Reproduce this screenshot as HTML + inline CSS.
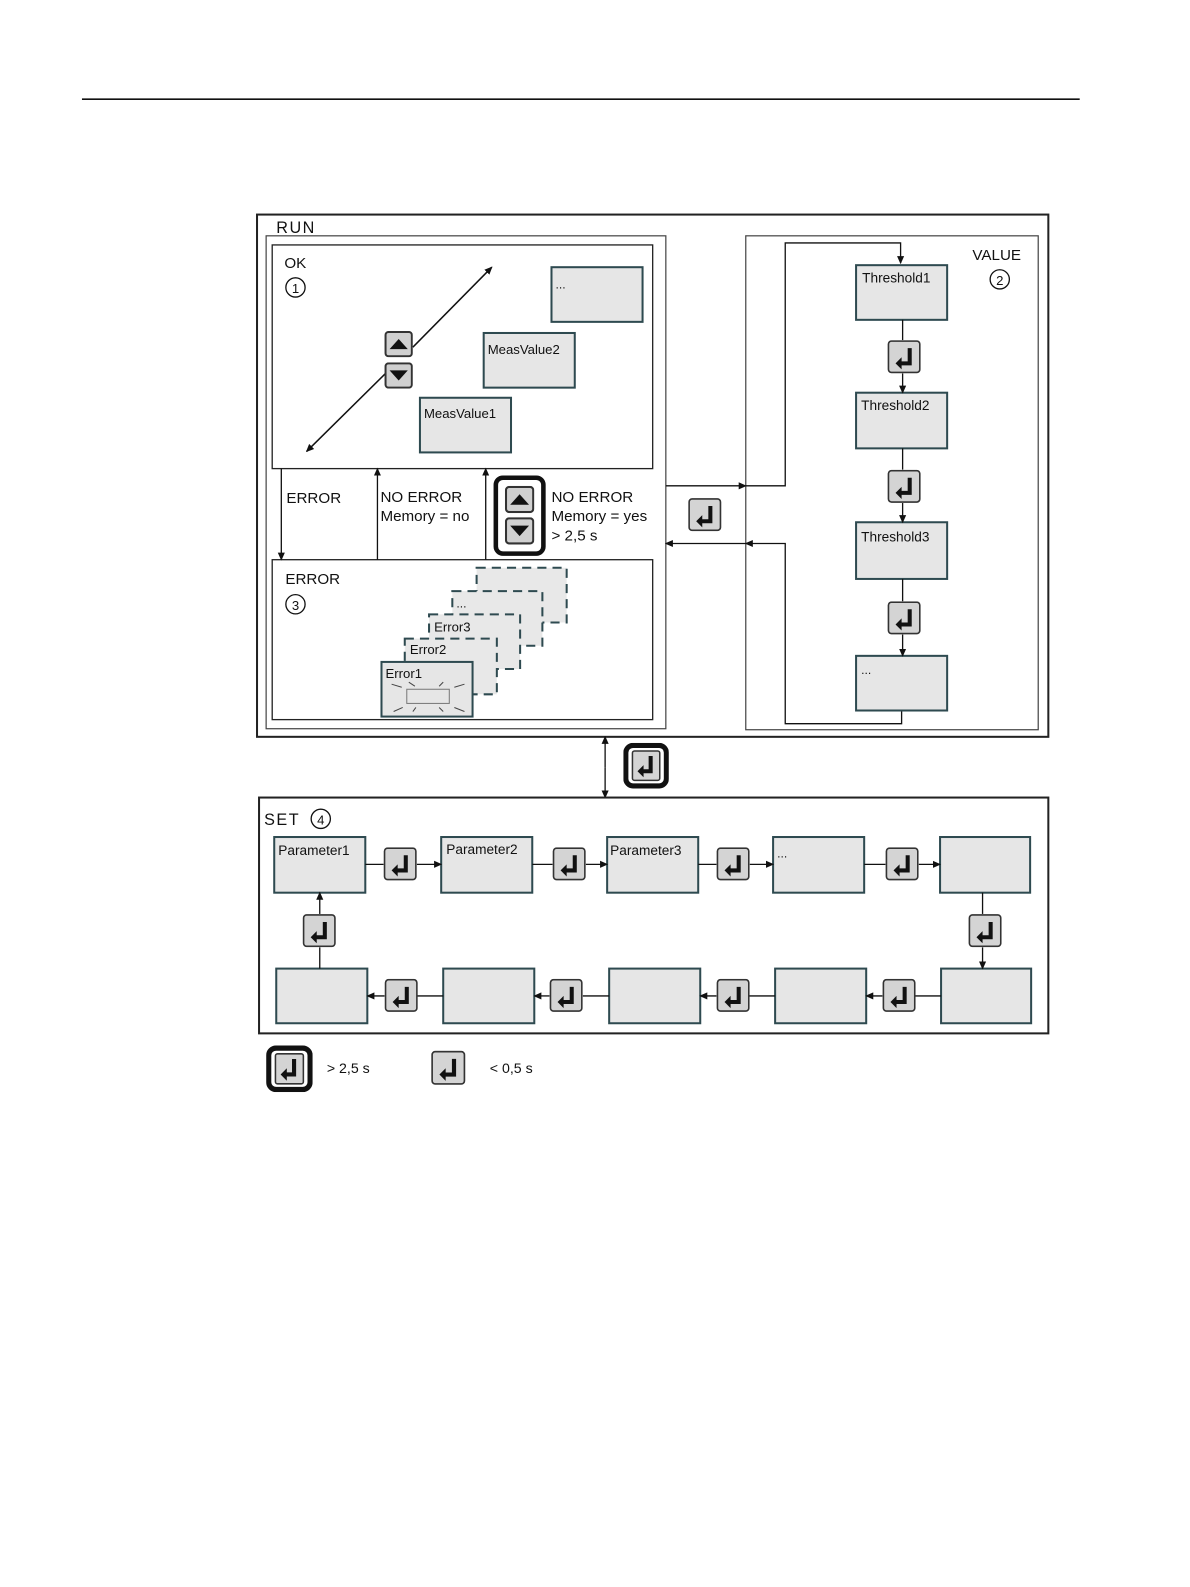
<!DOCTYPE html>
<html><head><meta charset="utf-8"><style>
html,body{margin:0;padding:0;background:#fff;}
svg{display:block;}
text{font-family:"Liberation Sans",sans-serif;fill:#111;}
</style></head><body>
<svg width="1190" height="1587" viewBox="0 0 1176 1568" preserveAspectRatio="none" xmlns="http://www.w3.org/2000/svg">
<defs>
<marker id="a" markerWidth="8" markerHeight="8" refX="7" refY="4" orient="auto" markerUnits="userSpaceOnUse"><path d="M0,0.5 L8,4 L0,7.5 z" fill="#111"/></marker>
<symbol id="k" viewBox="0 0 33 33"><rect x="1" y="1" width="31" height="31" rx="3" fill="#d4d4d4" stroke="#333" stroke-width="1.6"/><path d="M20,8 h4 v17 h-10 v4 l-6,-6 l6,-6 v4 h6 z" fill="#111"/></symbol>
<symbol id="kb" viewBox="0 0 45 45"><rect x="2.5" y="2.5" width="40" height="40" rx="7" fill="#fff" stroke="#111" stroke-width="5"/><rect x="9" y="8" width="27" height="29" rx="2" fill="#d4d4d4" stroke="#333" stroke-width="1.5"/><path d="M25,13 h4 v17 h-9 v4 l-6,-6 l6,-6 v4 h5 z" fill="#111"/></symbol>
<symbol id="up" viewBox="0 0 28 26"><rect x="1" y="1" width="26" height="24" rx="3" fill="#d0d0d0" stroke="#333" stroke-width="2"/><path d="M5,18 L14,8 L23,18 z" fill="#111"/></symbol>
<symbol id="dn" viewBox="0 0 28 26"><rect x="1" y="1" width="26" height="24" rx="3" fill="#d0d0d0" stroke="#333" stroke-width="2"/><path d="M5,8 L14,18 L23,8 z" fill="#111"/></symbol>
</defs>

<line x1="81" y1="98" x2="1067" y2="98" stroke="#111" stroke-width="1.5"/>

<!-- RUN -->
<rect x="254" y="212" width="782" height="516" fill="none" stroke="#222" stroke-width="2"/>
<text x="273" y="230" font-size="16" letter-spacing="1.5">RUN</text>
<rect x="263" y="233" width="395" height="487" fill="none" stroke="#444" stroke-width="1.2"/>
<rect x="269" y="242" width="376" height="221" fill="none" stroke="#222" stroke-width="1.3"/>
<rect x="269" y="553" width="376" height="158" fill="none" stroke="#222" stroke-width="1.3"/>
<rect x="737" y="233" width="289" height="488" fill="none" stroke="#444" stroke-width="1.2"/>

<!-- OK -->
<text x="281" y="265" font-size="15">OK</text>
<circle cx="292" cy="284" r="9.5" fill="none" stroke="#111" stroke-width="1.3"/>
<text x="292" y="289.5" font-size="13" text-anchor="middle">1</text>
<line x1="408" y1="343" x2="486" y2="264" stroke="#111" stroke-width="1.5" marker-end="url(#a)"/>
<line x1="382" y1="368" x2="303" y2="446" stroke="#111" stroke-width="1.5" marker-end="url(#a)"/>
<use href="#up" x="380" y="327" width="28" height="26"/>
<use href="#dn" x="380" y="358" width="28" height="26"/>
<g fill="#e6e6e6" stroke="#2e4a50" stroke-width="2">
<rect x="545" y="264" width="90" height="54"/>
<rect x="478" y="329" width="90" height="54"/>
<rect x="415" y="393" width="90" height="54"/>
</g>
<text x="549" y="285" font-size="12">...</text>
<text x="482" y="350" font-size="13">MeasValue2</text>
<text x="419" y="413" font-size="13">MeasValue1</text>

<!-- transitions -->
<line x1="278" y1="463" x2="278" y2="553" stroke="#111" stroke-width="1.3" marker-end="url(#a)"/>
<line x1="373" y1="553" x2="373" y2="463" stroke="#111" stroke-width="1.3" marker-end="url(#a)"/>
<line x1="480" y1="553" x2="480" y2="463" stroke="#111" stroke-width="1.3" marker-end="url(#a)"/>
<text x="283" y="497" font-size="15">ERROR</text>
<text x="376" y="496" font-size="15">NO ERROR</text>
<text x="376" y="515" font-size="15">Memory = no</text>
<text x="545" y="496" font-size="15">NO ERROR</text>
<text x="545" y="515" font-size="15">Memory = yes</text>
<text x="545" y="534" font-size="15">&gt; 2,5 s</text>
<rect x="490" y="472" width="47" height="75" rx="7" fill="#fff" stroke="#111" stroke-width="4.5"/>
<use href="#up" x="499" y="480" width="29" height="27"/>
<use href="#dn" x="499" y="511" width="29" height="27"/>

<!-- ERROR -->
<text x="282" y="577" font-size="15">ERROR</text>
<circle cx="292" cy="597" r="9.5" fill="none" stroke="#111" stroke-width="1.3"/>
<text x="292" y="602.5" font-size="13" text-anchor="middle">3</text>
<g fill="#e8e8e8" stroke="#2e4a50" stroke-width="2" stroke-dasharray="9,6">
<rect x="471" y="561" width="89" height="54"/>
<rect x="447" y="584" width="89" height="54"/>
<rect x="424" y="607" width="90" height="54"/>
<rect x="400" y="631" width="91" height="55"/>
</g>
<text x="451" y="600" font-size="12">...</text>
<text x="429" y="624" font-size="13">Error3</text>
<text x="405" y="646" font-size="13">Error2</text>
<rect x="377" y="654" width="90" height="54" fill="#e6e6e6" stroke="#2e4a50" stroke-width="2"/>
<text x="381" y="670" font-size="13">Error1</text>
<rect x="402" y="681" width="42" height="14" fill="#e6e6e6" stroke="#777" stroke-width="1"/>
<g stroke="#444" stroke-width="1">
<line x1="387" y1="676" x2="397" y2="679"/><line x1="404" y1="674" x2="410" y2="678"/><line x1="434" y1="678" x2="438" y2="674"/><line x1="449" y1="679" x2="459" y2="676"/>
<line x1="389" y1="703" x2="398" y2="699"/><line x1="408" y1="703" x2="411" y2="699"/><line x1="434" y1="699" x2="438" y2="703"/><line x1="449" y1="699" x2="459" y2="703"/>
</g>

<!-- OK <-> VALUE -->
<polyline points="658,480 737,480" fill="none" stroke="#111" stroke-width="1.3" marker-end="url(#a)"/>
<polyline points="737,480 776,480 776,240 890,240 890,260" fill="none" stroke="#111" stroke-width="1.3" marker-end="url(#a)"/>
<polyline points="891,702 891,715 776,715 776,537 737,537" fill="none" stroke="#111" stroke-width="1.3" marker-end="url(#a)"/>
<line x1="737" y1="537" x2="658" y2="537" stroke="#111" stroke-width="1.3" marker-end="url(#a)"/>
<use href="#k" x="680" y="492" width="33" height="33"/>

<!-- VALUE -->
<text x="961" y="257" font-size="15">VALUE</text>
<circle cx="988" cy="276" r="9.5" fill="none" stroke="#111" stroke-width="1.3"/>
<text x="988" y="281.5" font-size="13" text-anchor="middle">2</text>
<g fill="#e6e6e6" stroke="#2e4a50" stroke-width="2">
<rect x="846" y="262" width="90" height="54"/>
<rect x="846" y="388" width="90" height="55"/>
<rect x="846" y="516" width="90" height="56"/>
<rect x="846" y="648" width="90" height="54"/>
</g>
<text x="852" y="279" font-size="13.5">Threshold1</text>
<text x="851" y="405" font-size="13.5">Threshold2</text>
<text x="851" y="535" font-size="13.5">Threshold3</text>
<text x="851" y="666" font-size="12">...</text>
<g stroke="#111" stroke-width="1.3">
<line x1="892" y1="316" x2="892" y2="336"/><line x1="892" y1="369" x2="892" y2="388" marker-end="url(#a)"/>
<line x1="892" y1="443" x2="892" y2="464"/><line x1="892" y1="497" x2="892" y2="516" marker-end="url(#a)"/>
<line x1="892" y1="572" x2="892" y2="594"/><line x1="892" y1="627" x2="892" y2="648" marker-end="url(#a)"/>
</g>
<use href="#k" x="877" y="336" width="33" height="33"/>
<use href="#k" x="877" y="464" width="33" height="33"/>
<use href="#k" x="877" y="594" width="33" height="33"/>

<!-- RUN <-> SET -->
<line x1="598" y1="758" x2="598" y2="728" stroke="#111" stroke-width="1.3" marker-end="url(#a)"/>
<line x1="598" y1="758" x2="598" y2="788" stroke="#111" stroke-width="1.3" marker-end="url(#a)"/>
<use href="#kb" x="616" y="734" width="45" height="45"/>

<!-- SET -->
<rect x="256" y="788" width="780" height="233" fill="none" stroke="#222" stroke-width="2"/>
<text x="261" y="815" font-size="16" letter-spacing="1.5">SET</text>
<circle cx="317" cy="809" r="9.5" fill="none" stroke="#111" stroke-width="1.3"/>
<text x="317" y="814.5" font-size="13" text-anchor="middle">4</text>
<g fill="#e6e6e6" stroke="#2e4a50" stroke-width="2">
<rect x="271" y="827" width="90" height="55"/><rect x="436" y="827" width="90" height="55"/><rect x="600" y="827" width="90" height="55"/><rect x="764" y="827" width="90" height="55"/><rect x="929" y="827" width="89" height="55"/>
<rect x="273" y="957" width="90" height="54"/><rect x="438" y="957" width="90" height="54"/><rect x="602" y="957" width="90" height="54"/><rect x="766" y="957" width="90" height="54"/><rect x="930" y="957" width="89" height="54"/>
</g>
<text x="275" y="845" font-size="13.5">Parameter1</text>
<text x="441" y="844" font-size="13.5">Parameter2</text>
<text x="603" y="845" font-size="13.5">Parameter3</text>
<text x="768" y="847" font-size="12">...</text>
<g stroke="#111" stroke-width="1.3">
<line x1="361" y1="854" x2="379" y2="854"/><line x1="412" y1="854" x2="436" y2="854" marker-end="url(#a)"/>
<line x1="526" y1="854" x2="546" y2="854"/><line x1="579" y1="854" x2="600" y2="854" marker-end="url(#a)"/>
<line x1="690" y1="854" x2="708" y2="854"/><line x1="741" y1="854" x2="764" y2="854" marker-end="url(#a)"/>
<line x1="854" y1="854" x2="875" y2="854"/><line x1="908" y1="854" x2="929" y2="854" marker-end="url(#a)"/>
<line x1="971" y1="882" x2="971" y2="903"/><line x1="971" y1="936" x2="971" y2="957" marker-end="url(#a)"/>
<line x1="930" y1="984" x2="904" y2="984"/><line x1="872" y1="984" x2="856" y2="984" marker-end="url(#a)"/>
<line x1="766" y1="984" x2="740" y2="984"/><line x1="708" y1="984" x2="692" y2="984" marker-end="url(#a)"/>
<line x1="602" y1="984" x2="576" y2="984"/><line x1="543" y1="984" x2="528" y2="984" marker-end="url(#a)"/>
<line x1="438" y1="984" x2="412" y2="984"/><line x1="380" y1="984" x2="363" y2="984" marker-end="url(#a)"/>
<line x1="316" y1="957" x2="316" y2="936"/><line x1="316" y1="903" x2="316" y2="882" marker-end="url(#a)"/>
</g>
<use href="#k" x="379" y="837" width="33" height="33"/>
<use href="#k" x="546" y="837" width="33" height="33"/>
<use href="#k" x="708" y="837" width="33" height="33"/>
<use href="#k" x="875" y="837" width="33" height="33"/>
<use href="#k" x="957" y="903" width="33" height="33"/>
<use href="#k" x="299" y="903" width="33" height="33"/>
<use href="#k" x="380" y="967" width="33" height="33"/>
<use href="#k" x="543" y="967" width="33" height="33"/>
<use href="#k" x="708" y="967" width="33" height="33"/>
<use href="#k" x="872" y="967" width="33" height="33"/>

<!-- legend -->
<use href="#kb" x="263" y="1033" width="46" height="46"/>
<text x="323" y="1060" font-size="14">&gt; 2,5 s</text>
<use href="#k" x="426" y="1038" width="34" height="34"/>
<text x="484" y="1060" font-size="14">&lt; 0,5 s</text>
</svg>
</body></html>
